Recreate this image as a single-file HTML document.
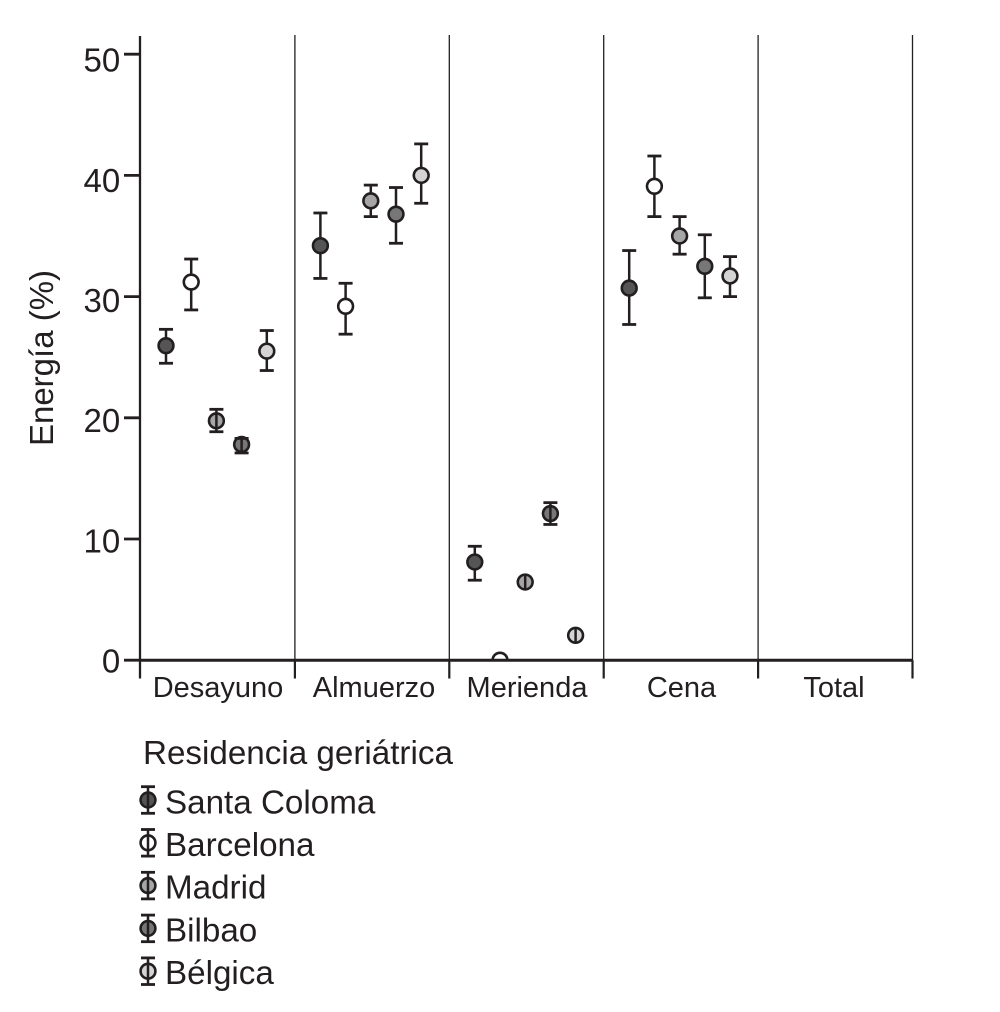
<!DOCTYPE html>
<html lang="es">
<head>
<meta charset="utf-8">
<title>Energía por comida y residencia geriátrica</title>
<style>
  html, body { margin: 0; padding: 0; background: #fff; }
  svg { display: block; }
  text { font-family: "Liberation Sans", sans-serif; fill: #231f20; }
</style>
</head>
<body>
<svg id="chart" xmlns="http://www.w3.org/2000/svg" width="1000" height="1012" viewBox="0 0 1000 1012">
  <defs>
    <clipPath id="plot-clip"><rect x="140" y="35" width="773" height="625"></rect></clipPath>
  </defs>
  <g id="grid"></g>
  <g id="marks" clip-path="url(#plot-clip)"></g>
  <g id="axes"></g>
  <text x="0" y="0" font-size="33" text-anchor="middle" transform="translate(53 358) rotate(-90)">Energía (%)</text>
  <text x="143" y="764" font-size="33.2">Residencia geriátrica</text>
  <g id="legend"></g>
</svg>
<script>
const categories = ['Desayuno', 'Almuerzo', 'Merienda', 'Cena', 'Total'];
const seriesNames = ['Santa Coloma', 'Barcelona', 'Madrid', 'Bilbao', 'Bélgica'];
const seriesFills = ['#555555', '#ffffff', '#a6a6a6', '#777777', '#d4d4d4'];
const yTicks = [0, 10, 20, 30, 40, 50];

const santaColomaMean = [25.95, 34.2, 8.1, 30.7, null];
const santaColomaLow = [24.5, 31.5, 6.6, 27.7, null];
const santaColomaHigh = [27.3, 36.9, 9.4, 33.8, null];

const barcelonaMean = [31.2, 29.2, 0, 39.1, null];
const barcelonaLow = [28.9, 26.9, 0, 36.6, null];
const barcelonaHigh = [33.1, 31.1, 0, 41.6, null];

const madridMean = [19.75, 37.9, 6.45, 35, null];
const madridLow = [18.85, 36.6, 6.0, 33.5, null];
const madridHigh = [20.7, 39.2, 6.9, 36.6, null];

const bilbaoMean = [17.8, 36.8, 12.1, 32.5, null];
const bilbaoLow = [17.1, 34.4, 11.2, 29.9, null];
const bilbaoHigh = [18.3, 39, 13, 35.1, null];

const belgicaMean = [25.5, 40, 2.05, 31.7, null];
const belgicaLow = [23.9, 37.7, 1.7, 30, null];
const belgicaHigh = [27.2, 42.6, 2.4, 33.3, null];

const seriesMeans = [santaColomaMean, barcelonaMean, madridMean, bilbaoMean, belgicaMean];
const seriesLows = [santaColomaLow, barcelonaLow, madridLow, bilbaoLow, belgicaLow];
const seriesHighs = [santaColomaHigh, barcelonaHigh, madridHigh, bilbaoHigh, belgicaHigh];

const SVG_NS = 'http://www.w3.org/2000/svg';
const INK = '#231f20';
const plotLeft = 140.5;
const plotRight = 912.5;
const plotTop = 36;
const zeroY = 660.2;
const pxPerUnit = 12.12;
const bandWidth = (plotRight - plotLeft) / categories.length;
const labelNudge = [0.3, 1.9, 0.5, 0.6, -1.3];
const capHideDistance = 5.6;
const stemOverCircleLimit = 13.5;
const markerRadius = 7.4;

function yScale(v) {
  return zeroY - v * pxPerUnit;
}
function tickLabelBaseline(v) {
  return yScale(v) + 12.4 + v * 0.1;
}
function bandLeft(c) {
  return plotLeft + c * bandWidth;
}
function xScale(c, s) {
  return bandLeft(c) + 25.5 + s * 25.2;
}
function make(parent, tag, attrs) {
  const el = document.createElementNS(SVG_NS, tag);
  Object.keys(attrs).forEach(function (k) { el.setAttribute(k, attrs[k]); });
  parent.appendChild(el);
  return el;
}
function drawMarker(parent, x, yMean, yLow, yHigh, fill, capHalf) {
  const hasError = yLow !== yHigh;
  const stemOnTop = hasError && (yLow - yHigh) / 2 <= stemOverCircleLimit;
  const stemAttrs = {
    x1: x, x2: x,
    y1: stemOnTop ? Math.max(yLow, yMean + markerRadius) : yLow,
    y2: stemOnTop ? Math.min(yHigh, yMean - markerRadius) : yHigh,
    stroke: INK, 'stroke-width': 2.5
  };
  if (hasError && !stemOnTop) make(parent, 'line', stemAttrs);
  make(parent, 'circle', { cx: x, cy: yMean, r: markerRadius, fill: fill, stroke: INK, 'stroke-width': 2.6 });
  if (stemOnTop) make(parent, 'line', stemAttrs);
  if (Math.abs(yLow - yMean) > capHideDistance) {
    make(parent, 'line', { x1: x - capHalf, x2: x + capHalf, y1: yLow, y2: yLow, stroke: INK, 'stroke-width': 2.8 });
  }
  if (Math.abs(yHigh - yMean) > capHideDistance) {
    make(parent, 'line', { x1: x - capHalf, x2: x + capHalf, y1: yHigh, y2: yHigh, stroke: INK, 'stroke-width': 2.8 });
  }
}

const grid = document.getElementById('grid');
const axes = document.getElementById('axes');
const marks = document.getElementById('marks');
const legend = document.getElementById('legend');

categories.forEach(function (name, c) {
  const right = bandLeft(c + 1);
  const divider = make(grid, 'line', { x1: right, x2: right, y1: 35, y2: zeroY, stroke: INK, 'stroke-width': 1.3 });
  
  
  const lowerTick = make(axes, 'line', { x1: right, x2: right, y1: zeroY, y2: 678.5, stroke: INK, 'stroke-width': 2.2 });
  
  
  const label = make(axes, 'text', { x: bandLeft(c) + bandWidth / 2 + labelNudge[c], y: 697, 'font-size': 29, 'text-anchor': 'middle' });
  label.textContent = name;
  
  
});

const yAxisLine = make(axes, 'line', { x1: plotLeft - 0.5, x2: plotLeft - 0.5, y1: plotTop, y2: 678.5, stroke: INK, 'stroke-width': 2.3 });



const xAxisLine = make(axes, 'line', { x1: plotLeft - 0.5, x2: plotRight, y1: zeroY, y2: zeroY, stroke: INK, 'stroke-width': 3 });



yTicks.forEach(function (t) {
  const y = yScale(t);
  const tick = make(axes, 'line', { x1: 124, x2: plotLeft, y1: y, y2: y, stroke: INK, 'stroke-width': 2.8 });
  
  
  const label = make(axes, 'text', { x: 120.2, y: tickLabelBaseline(t), 'font-size': 33, 'text-anchor': 'end' });
  label.textContent = String(t);
  
  
});

seriesNames.forEach(function (name, s) {
  const group = make(marks, 'g', {});
  
  
  categories.forEach(function (cat, c) {
    const mean = seriesMeans[s][c];
    if (mean === null) return;
    const point = make(group, 'g', {});
    
    
    const low = mean === 0 ? mean : seriesLows[s][c];
    const high = mean === 0 ? mean : seriesHighs[s][c];
    drawMarker(point, xScale(c, s), yScale(mean), yScale(low), yScale(high), seriesFills[s], 7);
  });

  const entry = make(legend, 'g', {});
  
  
  const cy = 800 + s * 42.8;
  drawMarker(entry, 148, cy, cy + 13.3, cy - 13.3, seriesFills[s], 7);
  const text = make(entry, 'text', { x: 165, y: 813.3 + s * 42.7, 'font-size': 33.2 });
  text.textContent = name;
});
</script>
</body>
</html>
